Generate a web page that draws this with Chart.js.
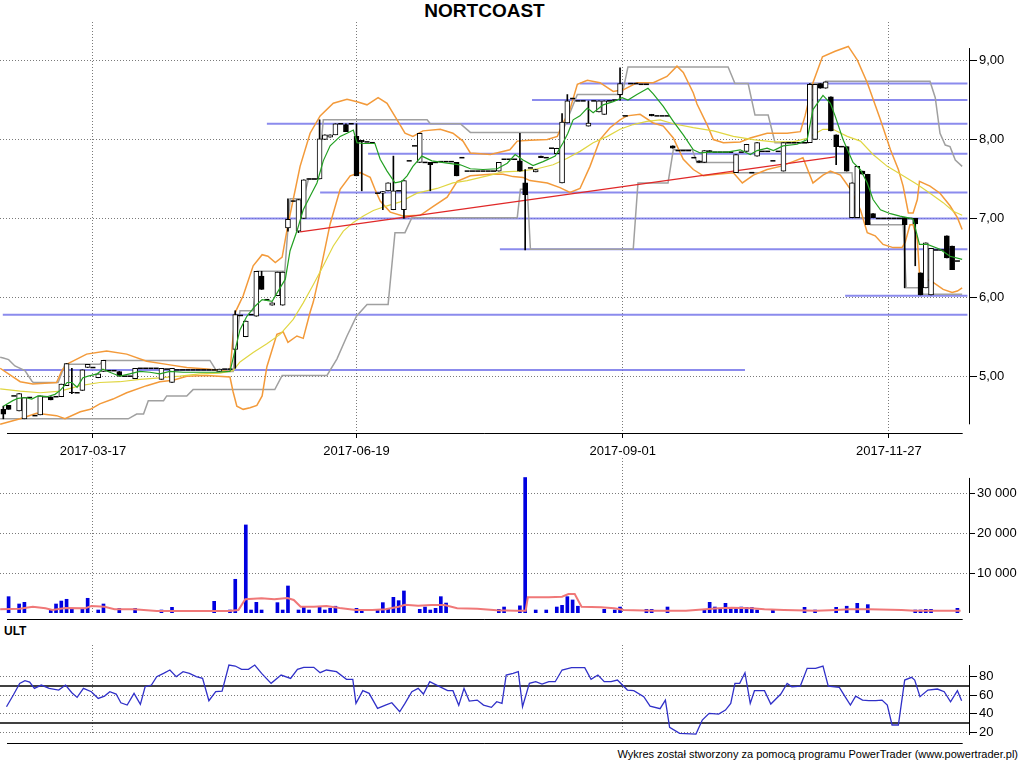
<!DOCTYPE html>
<html>
<head>
<meta charset="utf-8">
<script src="https://cdn.jsdelivr.net/npm/chart.js@4.4.1/dist/chart.umd.min.js"></script>
<style>
  body { margin: 0; width: 1024px; height: 768px; background: #fff; position: relative; overflow: hidden; font-family: "Liberation Sans", Arial, sans-serif; }
  .panel { position: absolute; left: 0; width: 1024px; }
  #title { position: absolute; left: 0; top: 0; width: 969px; text-align: center; font-weight: bold; font-size: 19px; }
  #ultLabel { position: absolute; left: 4px; top: 624px; font-weight: bold; font-size: 12px; }
  #footer { position: absolute; right: 6px; top: 748px; font-size: 11px; }
</style>
</head>
<body>
<div id="title">NORTCOAST</div>
<div class="panel" style="top:22px;height:438px"><canvas id="priceChart"></canvas></div>
<div class="panel" style="top:458px;height:164px"><canvas id="volumeChart"></canvas></div>
<div id="ultLabel">ULT</div>
<div class="panel" style="top:645px;height:101px"><canvas id="ultChart"></canvas></div>
<div id="footer">Wykres został stworzony za pomocą programu PowerTrader (www.powertrader.pl)</div>
<script>
// bar index axis: 0 .. 181 sessions
const X_MIN = -0.63, X_MAX = 183.2;
const dateLabels = ['2017-03-17', '2017-06-19', '2017-09-01', '2017-11-27'];
const dateIdx = [17, 67, 117.5, 168];
const lowerGridIdx = [17, 37, 57, 77, 97, 117.5, 137.5, 158, 178];
const priceTicks = [5, 6, 7, 8, 9];
const volumeTicks = [10000, 20000, 30000];
const ultTicks = [20, 40, 60, 80];
const ultBands = [70, 30];

const priceOpen = [
  4.58, 4.63, 4.75, 4.56, 4.46, 4.73, 4.50, 4.51, 4.74, 4.74,
  4.74, 4.74, 4.88, 4.80, 4.79, 4.82, 5.11, 5.11, 4.98, 5.06,
  5.07, 5.07, 5.06, 5.00, 5.00, 4.97, 5.10, 5.10, 5.10, 5.10,
  4.96, 5.09, 4.92, 5.08, 5.08, 5.08, 5.08, 5.08, 5.08, 5.08,
  5.08, 5.06, 5.09, 5.09, 5.34, 5.77, 5.50, 5.78, 5.76, 6.27,
  5.97, 5.90, 6.02, 5.90, 6.88, 7.22, 6.84, 7.00, 7.50, 7.50,
  7.50, 8.00, 8.03, 8.06, 8.20, 8.19, 8.20, 8.04, 7.99, 7.97,
  7.96, 7.32, 7.32, 7.35, 7.11, 7.35, 7.11, 7.73, 7.92, 7.71,
  7.71, 7.71, 7.71, 7.72, 7.72, 7.72, 7.71, 7.77, 7.60, 7.60,
  7.60, 7.60, 7.60, 7.60, 7.60, 7.75, 7.75, 7.75, 7.73, 7.45,
  7.64, 7.59, 7.79, 7.77, 7.89, 7.82, 7.45, 8.21, 8.52, 8.49,
  8.49, 8.17, 8.49, 8.35, 8.32, 8.49, 8.50, 8.57, 8.30, 8.71,
  8.71, 8.70, 8.70, 8.32, 8.30, 8.30, 8.30, 7.92, 7.86, 7.86,
  7.86, 7.77, 7.73, 7.71, 7.86, 7.84, 7.84, 7.84, 7.84, 7.58,
  7.84, 7.85, 7.58, 7.79, 7.85, 7.85, 7.73, 7.85, 7.60, 7.96,
  7.96, 7.96, 7.96, 7.96, 8.00, 8.71, 8.65, 8.54, 8.06, 7.91,
  7.91, 7.01, 7.01, 7.60, 7.56, 7.06, 7.00, 7.00, 7.00, 7.00,
  7.00, 7.01, 7.00, 7.00, 6.31, 6.12, 6.03, 6.60, 6.60, 6.78,
  6.65, 6.46
];
const priceHigh = [
  4.62, 4.63, 4.75, 4.78, 4.73, 4.73, 4.50, 4.75, 4.74, 4.74,
  4.74, 4.90, 5.16, 5.10, 4.79, 5.08, 5.15, 5.11, 5.03, 5.20,
  5.07, 5.07, 5.06, 5.00, 5.00, 5.10, 5.10, 5.10, 5.10, 5.10,
  5.10, 5.09, 5.10, 5.08, 5.08, 5.08, 5.08, 5.08, 5.08, 5.08,
  5.08, 5.09, 5.09, 5.09, 5.83, 5.77, 5.70, 5.78, 6.33, 6.33,
  5.97, 5.93, 6.32, 6.32, 7.25, 7.22, 7.24, 7.49, 7.50, 7.50,
  8.25, 8.06, 8.06, 8.20, 8.20, 8.20, 8.20, 8.20, 7.99, 7.97,
  7.96, 7.32, 7.34, 7.45, 7.79, 7.35, 7.48, 7.73, 7.92, 8.08,
  7.71, 7.71, 7.71, 7.72, 7.72, 7.72, 7.71, 7.77, 7.60, 7.60,
  7.60, 7.60, 7.60, 7.60, 7.71, 7.75, 7.75, 7.75, 8.08, 7.62,
  7.64, 7.62, 7.79, 7.77, 7.89, 7.89, 8.33, 8.57, 8.52, 8.49,
  8.49, 8.49, 8.49, 8.49, 8.49, 8.49, 8.50, 8.91, 8.30, 8.71,
  8.71, 8.70, 8.70, 8.32, 8.30, 8.30, 8.30, 7.92, 7.86, 7.86,
  7.86, 7.77, 7.73, 7.86, 7.86, 7.84, 7.84, 7.84, 7.84, 7.81,
  7.84, 7.94, 7.58, 7.96, 7.85, 7.85, 7.73, 7.85, 7.96, 7.96,
  7.96, 7.96, 7.96, 8.71, 8.70, 8.71, 8.73, 8.54, 8.06, 7.91,
  7.91, 7.45, 7.66, 7.60, 7.56, 7.06, 7.00, 7.00, 7.00, 7.00,
  7.00, 7.01, 7.00, 7.00, 6.31, 6.69, 6.62, 6.60, 6.60, 6.78,
  6.65, 6.46
];
const priceLow = [
  4.46, 4.58, 4.75, 4.56, 4.46, 4.73, 4.50, 4.51, 4.74, 4.70,
  4.74, 4.74, 4.88, 4.78, 4.79, 4.82, 5.11, 5.11, 4.98, 5.06,
  5.07, 5.07, 5.00, 5.00, 5.00, 4.97, 5.10, 5.10, 5.10, 5.10,
  4.96, 5.09, 4.92, 5.08, 5.08, 5.08, 5.08, 5.08, 5.08, 5.08,
  5.08, 5.06, 5.09, 5.09, 5.10, 5.77, 5.50, 5.78, 5.76, 6.10,
  5.97, 5.90, 6.02, 5.90, 6.84, 7.22, 6.82, 7.00, 7.50, 7.50,
  7.50, 8.00, 8.03, 8.06, 8.20, 8.10, 8.20, 7.54, 7.35, 7.97,
  7.96, 7.32, 7.11, 7.35, 7.11, 7.35, 7.00, 7.73, 7.92, 7.71,
  7.71, 7.35, 7.71, 7.72, 7.72, 7.72, 7.54, 7.77, 7.60, 7.60,
  7.60, 7.60, 7.60, 7.60, 7.60, 7.75, 7.75, 7.75, 7.60, 6.60,
  7.64, 7.59, 7.77, 7.77, 7.89, 7.82, 7.45, 8.21, 8.52, 8.49,
  8.49, 8.17, 8.49, 8.35, 8.32, 8.49, 8.50, 8.50, 8.30, 8.71,
  8.71, 8.70, 8.70, 8.30, 8.30, 8.30, 8.30, 7.89, 7.86, 7.86,
  7.86, 7.77, 7.71, 7.71, 7.84, 7.84, 7.84, 7.84, 7.84, 7.58,
  7.84, 7.85, 7.58, 7.79, 7.85, 7.85, 7.73, 7.85, 7.60, 7.96,
  7.96, 7.96, 7.96, 7.96, 8.00, 8.65, 8.65, 8.11, 7.68, 7.91,
  7.60, 7.01, 7.01, 7.56, 6.92, 7.01, 7.00, 7.00, 7.00, 7.00,
  7.00, 6.12, 7.00, 6.40, 6.03, 6.12, 6.03, 6.60, 6.60, 6.50,
  6.35, 6.46
];
const priceClose = [
  4.52, 4.58, 4.75, 4.78, 4.73, 4.73, 4.50, 4.75, 4.74, 4.70,
  4.74, 4.90, 5.16, 4.79, 4.79, 5.08, 5.15, 5.11, 5.03, 5.20,
  5.07, 5.07, 5.00, 5.00, 5.00, 5.10, 5.10, 5.10, 5.10, 5.10,
  5.10, 5.09, 5.10, 5.08, 5.08, 5.08, 5.08, 5.08, 5.08, 5.08,
  5.08, 5.09, 5.09, 5.09, 5.78, 5.77, 5.70, 5.78, 6.33, 6.10,
  5.97, 5.93, 6.32, 6.32, 6.99, 7.22, 7.24, 7.49, 7.50, 7.50,
  8.01, 8.06, 8.06, 8.20, 8.20, 8.10, 8.20, 7.54, 7.97, 7.97,
  7.96, 7.32, 7.34, 7.45, 7.35, 7.35, 7.48, 7.73, 7.92, 8.08,
  7.71, 7.68, 7.71, 7.72, 7.72, 7.72, 7.54, 7.77, 7.60, 7.60,
  7.60, 7.60, 7.60, 7.60, 7.71, 7.75, 7.75, 7.75, 7.60, 7.30,
  7.64, 7.62, 7.77, 7.77, 7.89, 7.89, 8.22, 8.49, 8.52, 8.49,
  8.49, 8.21, 8.49, 8.49, 8.49, 8.49, 8.50, 8.71, 8.30, 8.71,
  8.71, 8.70, 8.70, 8.30, 8.30, 8.30, 8.30, 7.89, 7.86, 7.86,
  7.86, 7.77, 7.71, 7.86, 7.84, 7.84, 7.84, 7.84, 7.84, 7.81,
  7.84, 7.94, 7.58, 7.96, 7.85, 7.85, 7.73, 7.85, 7.96, 7.96,
  7.96, 7.96, 7.96, 8.70, 8.70, 8.65, 8.73, 8.11, 7.91, 7.91,
  7.60, 7.45, 7.66, 7.56, 6.92, 7.01, 7.00, 7.00, 7.00, 7.00,
  7.00, 6.92, 7.00, 6.93, 6.03, 6.69, 6.62, 6.60, 6.60, 6.50,
  6.35, 6.46
];

// [bar index, value]
const bbUpper = [[-0.6,5.10],[3.2,4.93],[5.6,4.90],[10.1,4.92],[11.1,5.07],[12.0,5.15],[15.8,5.28],[19.6,5.32],[23.4,5.28],[27.2,5.19],[31.0,5.15],[34.8,5.11],[38.6,5.09],[43.0,5.06],[44.0,5.81],[45.5,6.02],[47.4,6.40],[49.1,6.54],[50.2,6.52],[51.6,6.44],[52.9,6.51],[54.0,6.92],[56.3,7.66],[58.2,8.08],[60.1,8.30],[62.6,8.46],[65.2,8.51],[67.1,8.48],[69.0,8.44],[71.1,8.53],[72.8,8.46],[74.7,8.25],[76.2,8.08],[77.7,8.04],[79.6,8.11],[82.9,8.13],[85.3,8.08],[87.2,7.98],[88.6,7.83],[92.4,7.81],[96.1,7.87],[97.5,7.98],[99.9,7.99],[103.2,8.00],[105.1,8.04],[106.2,8.21],[107.5,8.38],[108.9,8.70],[110.8,8.75],[113.2,8.72],[115.7,8.61],[117.6,8.63],[120.2,8.72],[123.3,8.72],[125.9,8.80],[127.8,8.93],[129.0,8.85],[130.9,8.59],[131.6,8.45],[133.5,8.19],[134.7,8.00],[136.6,7.96],[139.8,7.97],[141.7,8.02],[144.9,8.08],[148.7,8.08],[151.2,8.10],[152.1,8.30],[153.6,8.72],[155.4,9.05],[157.8,9.12],[160.3,9.18],[162.0,9.01],[163.9,8.72],[166.4,8.25],[168.3,7.87],[169.8,7.62],[170.7,7.41],[171.7,7.07],[172.6,7.07],[173.4,7.24],[173.8,7.47],[175.8,7.41],[177.7,7.32],[179.6,7.16],[181.0,7.01],[181.9,6.86]];
const bbLower = [[-0.6,4.39],[3.2,4.46],[6.3,4.53],[10.1,4.50],[11.7,4.46],[14.6,4.55],[16.5,4.58],[18.3,4.65],[20.8,4.71],[23.4,4.79],[27.2,4.88],[29.7,4.93],[32.2,4.95],[34.8,5.00],[38.6,5.01],[43.0,4.99],[43.6,4.80],[44.3,4.62],[45.5,4.58],[46.8,4.60],[48.1,4.63],[49.1,4.75],[50.0,5.12],[51.9,5.53],[53.1,5.56],[54.0,5.43],[55.7,5.51],[56.9,5.48],[58.2,5.81],[58.8,5.94],[60.1,6.32],[62.0,6.93],[63.9,7.37],[65.8,7.54],[67.7,7.58],[69.6,7.52],[70.5,7.37],[71.5,7.22],[73.4,7.08],[75.8,7.03],[79.1,7.04],[81.5,7.15],[84.2,7.27],[86.1,7.47],[88.6,7.54],[92.4,7.56],[94.8,7.56],[96.7,7.53],[98.6,7.52],[99.9,7.48],[103.2,7.45],[105.6,7.39],[107.5,7.33],[109.4,7.38],[111.3,7.66],[113.2,8.00],[115.1,8.15],[117.0,8.25],[118.3,8.30],[120.8,8.32],[123.3,8.21],[125.2,8.17],[127.1,8.02],[129.0,7.75],[130.9,7.62],[132.8,7.54],[135.4,7.56],[138.5,7.58],[140.2,7.45],[142.3,7.55],[144.9,7.62],[147.4,7.66],[149.8,7.72],[151.7,7.77],[153.6,7.45],[155.5,7.55],[156.9,7.60],[158.8,7.55],[160.7,7.37],[162.6,7.11],[163.9,6.82],[165.4,6.78],[166.9,6.67],[168.8,6.63],[170.5,6.63],[171.1,6.70],[172.0,6.92],[172.6,6.92],[173.4,6.73],[173.8,6.31],[174.5,6.25],[176.4,6.19],[178.3,6.10],[180.0,6.06],[181.0,6.08],[181.9,6.12]];
const maShort = [[0,4.62],[1.8,4.69],[2.8,4.72],[4.1,4.73],[5.4,4.71],[6.6,4.75],[8.3,4.74],[9.8,4.77],[10.8,4.82],[12.1,4.92],[13.0,4.92],[14.0,4.86],[15.1,4.98],[16.1,5.00],[17.8,5.03],[18.9,5.09],[20.2,5.05],[22.1,5.00],[24.0,5.03],[25.9,5.06],[27.8,5.05],[29.7,5.03],[31.6,5.06],[34.1,5.05],[37.3,5.05],[40.6,5.05],[43.0,5.06],[44.0,5.34],[44.9,5.59],[46.2,5.76],[47.8,5.89],[49.1,5.97],[51.0,5.95],[52.5,6.12],[53.5,6.23],[54.4,6.59],[55.7,6.84],[56.9,7.11],[58.2,7.28],[59.5,7.45],[60.7,7.73],[62.0,7.92],[63.9,8.04],[65.2,8.08],[66.4,8.12],[67.1,7.96],[68.3,7.95],[70.5,7.95],[71.5,7.75],[72.8,7.60],[74.3,7.45],[75.6,7.47],[76.6,7.54],[77.7,7.66],[79.4,7.79],[81.3,7.73],[84.2,7.70],[86.7,7.68],[88.6,7.63],[91.0,7.62],[93.7,7.63],[95.6,7.70],[97.1,7.81],[98.6,7.74],[100.5,7.67],[102.4,7.72],[104.7,7.79],[106.2,7.96],[107.1,8.08],[108.1,8.25],[109.4,8.30],[110.8,8.40],[111.9,8.34],[113.8,8.44],[115.7,8.48],[117.4,8.53],[118.5,8.50],[120.2,8.57],[122.3,8.65],[123.3,8.58],[125.2,8.42],[127.1,8.23],[129.0,8.06],[130.9,7.87],[132.2,7.83],[134.1,7.84],[137.3,7.84],[139.8,7.87],[141.7,7.81],[143.0,7.86],[144.9,7.89],[146.1,7.86],[147.9,7.92],[150.6,7.94],[152.5,8.00],[153.6,8.38],[155.5,8.56],[156.9,8.46],[157.8,8.30],[159.3,8.00],[161.2,7.71],[162.6,7.62],[163.9,7.45],[165.0,7.24],[166.4,7.11],[168.3,7.06],[170.1,7.03],[171.5,7.01],[172.6,6.99],[173.8,6.67],[175.3,6.67],[177.7,6.61],[179.6,6.52],[181.9,6.48]];
const maLong = [[-0.6,4.84],[3.2,4.81],[7.0,4.79],[10.8,4.81],[14.6,4.88],[18.3,4.92],[22.1,4.93],[25.9,4.96],[29.7,4.98],[33.5,5.00],[37.3,5.03],[41.1,5.04],[43.6,5.07],[44.9,5.18],[47.4,5.30],[50.0,5.41],[52.5,5.53],[55.0,5.72],[56.9,5.93],[58.8,6.16],[60.7,6.40],[62.6,6.65],[64.5,6.84],[66.4,6.95],[68.3,7.03],[70.2,7.10],[72.8,7.16],[75.3,7.21],[78.5,7.32],[82.3,7.38],[85.3,7.45],[88.0,7.48],[91.8,7.54],[94.8,7.59],[98.0,7.60],[101.3,7.63],[104.3,7.68],[106.9,7.76],[109.4,7.85],[111.9,7.96],[114.6,8.04],[117.0,8.13],[119.5,8.19],[122.1,8.23],[124.6,8.25],[127.1,8.20],[130.9,8.15],[134.7,8.11],[138.5,8.04],[142.3,8.00],[146.1,7.97],[149.8,7.97],[152.7,8.02],[153.6,8.06],[155.5,8.13],[157.4,8.13],[160.1,8.04],[162.6,7.98],[165.0,7.81],[167.7,7.66],[170.7,7.54],[173.4,7.43],[175.8,7.32],[178.3,7.20],[180.2,7.09],[181.9,7.04]];
const channelHigh = [[-0.6,5.24],[0,5.23],[1,5.21],[2.2,5.13],[4.1,5.07],[5.4,4.94],[5.7,4.92],[10.4,4.92],[11.7,5.15],[18.3,5.15],[19,5.20],[39.2,5.20],[40.5,5.06],[43.6,5.06],[44.9,5.83],[47.4,5.83],[48.2,6.33],[53.4,6.33],[54.4,7.25],[56.9,7.25],[57.9,7.50],[59.7,7.50],[60.7,8.25],[80.4,8.25],[81,8.20],[86.7,8.20],[88.6,8.09],[106,8.09],[108.9,8.57],[117.4,8.57],[118.5,8.92],[137.5,8.92],[138.8,8.71],[141.3,8.71],[142.6,8.31],[145.1,8.31],[146.4,7.96],[152.7,7.96],[153.2,8.71],[155.6,8.71],[156,8.74],[175.8,8.74],[176.8,8.53],[177.7,8.08],[178.7,7.93],[179.6,7.91],[180.6,7.74],[181.9,7.66]];
const channelLow = [[-0.6,4.46],[23.7,4.46],[25.3,4.52],[26.6,4.52],[27.5,4.69],[30.4,4.69],[31,4.75],[34.8,4.75],[36,4.83],[51.5,4.83],[52.9,5.01],[61.4,5.01],[63.3,5.22],[65.2,5.51],[67,5.76],[69,5.91],[73,5.91],[74.3,6.82],[76.2,6.82],[77.5,7.01],[97.5,7.01],[98.1,7.37],[99.4,7.37],[100,6.61],[119.5,6.61],[120.4,7.45],[126.1,7.45],[127.1,7.87],[130.7,7.87],[131.6,7.71],[138.8,7.71],[139.4,7.58],[161,7.58],[161.6,7.01],[164,7.01],[164.5,6.92],[170.7,6.92],[171.3,6.12],[173.6,6.12],[174.5,6.04],[181.9,6.04]];
const trendLine = [[56.3, 6.83], [157.8, 7.78]];
const levelPrice = [5.08, 5.78, 6.02, 6.61, 7.00, 7.33, 7.82, 8.20, 8.50, 8.71];
const levelFrom  = [0, -0.1, 159.7, 94.2, 44.9, 60.1, 69.2, 50.0, 100.3, 109.4];
const levelTo    = [140.7, 182.9, 182.9, 182.9, 182.9, 182.9, 182.9, 182.9, 182.9, 182.9];

const volume = [[1,4100],[3,2260],[4,2680],[9,750],[10,2260],[11,3000],[12,3440],[13,920],[15,920],[16,3690],[18,750],[19,2260],[22,1170],[25,1170],[30,750],[32,1420],[40,2930],[43,750],[44,8460],[46,22100],[47,750],[48,2680],[49,750],[52,2600],[53,750],[54,6780],[56,750],[57,1510],[58,750],[60,1500],[61,750],[62,1200],[63,1700],[67,1170],[68,750],[71,750],[72,2600],[73,920],[74,3940],[75,3100],[76,5530],[79,920],[80,1500],[81,750],[82,1170],[83,4100],[84,2500],[94,920],[95,1500],[98,1800],[99,34000],[101,750],[103,750],[105,1500],[106,1930],[107,4100],[108,3270],[109,1700],[114,920],[116,750],[117,1500],[122,920],[123,920],[126,1500],[133,750],[134,2680],[135,1500],[136,1170],[137,2430],[138,1170],[139,1170],[140,1500],[141,1420],[142,1420],[143,750],[146,750],[152,1420],[154,750],[158,1420],[160,1700],[162,2430],[164,2100],[173,750],[174,750],[175,920],[176,920],[181,1170]];
const volumeAvg = [[-0.6,920],[3.1,1090],[5.6,1590],[8.0,1170],[9.3,750],[11.8,1260],[15.5,1170],[16.7,1760],[19.2,1590],[21.1,920],[24.8,920],[29.1,500],[36.6,500],[42.8,500],[44.6,750],[45.9,3430],[49.0,3690],[51.4,3430],[53.9,3770],[55.1,3270],[56.4,1590],[58.9,1590],[61.3,1760],[63.8,1260],[66.9,750],[70.0,750],[72.5,920],[75.0,1590],[76.2,2090],[78.7,1840],[81.2,2010],[83.7,2010],[86.1,1170],[89.9,1090],[93.6,670],[97.3,590],[99.1,590],[99.5,3940],[103.5,3940],[106.0,4100],[107.2,4770],[108.4,4770],[109.7,1590],[113.4,1420],[115.9,1170],[117.7,750],[123.3,590],[129.5,590],[133.2,920],[135.7,1170],[138.2,1340],[141.9,1170],[144.4,920],[148.1,750],[154.3,590],[158.0,750],[160.5,920],[164.2,920],[170.4,750],[172.9,590],[181.6,590]];

const ult = [[0.6,47.6],[1.9,60.2],[3.1,72.8],[4.1,75.7],[5.0,74.2],[5.9,67.4],[7.2,71],[8.7,67.4],[10.5,65.6],[11.8,71],[13,62.7],[14,57.7],[15.2,67.4],[16.7,63.8],[18,56.6],[19.2,59.1],[20.2,63.8],[21.4,61.3],[22.3,51.9],[23.5,49.4],[24.8,62],[26,50.2],[26.9,69.2],[28.1,71],[29.1,80],[30.4,83.6],[31.6,87.2],[32.8,80],[34.1,85.4],[35.3,83.6],[36.6,80],[37.8,78.2],[39,54.1],[40.3,63.8],[41.5,64.5],[42.8,92.6],[44,91.5],[45.2,87.9],[46.5,87.9],[47.7,92.6],[49,83.6],[50.8,72.8],[52.7,81.8],[54.5,78.2],[55.8,87.9],[57,90.1],[58.9,90.1],[60.1,84.3],[61.3,87.2],[63.2,85.4],[65.1,77.1],[66.3,77.1],[66.9,51.2],[68.2,64.9],[69.4,62],[71,45.8],[72.5,49.4],[73.7,51.9],[75.2,42.2],[76.2,51.2],[77.5,63.8],[78.7,67.4],[79.7,61.3],[80.9,74.6],[82.2,71],[84.3,64.9],[85.3,64.9],[86.4,49.1],[87.4,67.4],[88.4,53.7],[89.9,54.8],[91.1,49.4],[92.6,46.9],[93.6,53],[94.6,51.2],[95.4,81.8],[96.7,83.6],[97.7,85.4],[98.5,47.6],[99.8,72.8],[101,74.6],[102.2,72.1],[103.5,74.6],[104.7,74.6],[106,87.2],[107.8,89.7],[110.3,89.7],[111.5,77.1],[112.8,81.8],[114,74.6],[115.3,74.6],[116.5,76.4],[118.4,65.6],[119.6,64.9],[121.5,58.4],[122.7,48.3],[124.6,45.5],[125.6,54.8],[126.4,25.3],[128.3,18.8],[131.4,18.1],[132.6,33.2],[133.9,40.4],[135.7,39.7],[137,44],[138,51.2],[138.8,72.8],[139.7,72.8],[140.7,84.3],[141.7,51.2],[142.5,64.9],[144.4,64.9],[145.6,50.5],[147.5,61.3],[148.7,72.8],[149.6,69.2],[151.2,69.9],[152.5,89],[154.1,89],[155.5,91.5],[156.5,69.9],[158.6,68.5],[159.9,56.6],[160.7,49.4],[161.7,59.1],[163,54.8],[164.2,54.1],[165.5,54.1],[166.7,54.8],[167.7,49.4],[168.6,27.9],[169.8,27.9],[171,76.4],[172.3,79.3],[172.9,76.4],[173.9,58.4],[175.4,65.6],[177.2,66.7],[178.5,63.8],[179.7,53],[181,64.9],[181.8,54.1]];

Chart.defaults.font.family = '"Liberation Sans", Arial, sans-serif';
Chart.defaults.font.size = 13;
Chart.defaults.color = '#000';

// right axis line and bottom rule, drawn only over the span the original shows
const axisFrame = {
    id: 'axisFrame',
    afterDraw(chart, args, o) {
        const { ctx, chartArea: a, scales: { x, y } } = chart;
        ctx.save();
        ctx.strokeStyle = '#000';
        ctx.lineWidth = 1;
        ctx.beginPath();
        const ax = Math.round(a.right) + 0.5;
        ctx.moveTo(ax, y.getPixelForValue(o.yFrom));
        ctx.lineTo(ax, y.getPixelForValue(o.yTo));
        const by = Math.round(a.bottom + o.drop) + 0.5;
        ctx.moveTo(x.getPixelForValue(o.xFrom), by);
        ctx.lineTo(x.getPixelForValue(o.xTo), by);
        ctx.stroke();
        ctx.restore();
    }
};
Chart.register(axisFrame);

const pts = pairs => pairs.map(([x, y]) => ({ x, y }));
const line = (pairs, color, width, order) => ({
    type: 'line', data: pts(pairs), borderColor: color, borderWidth: width,
    pointRadius: 0, tension: 0, fill: false, order
});

function xAxis(tickIdx, withLabels, height) {
    return {
        type: 'linear', min: X_MIN, max: X_MAX, offset: false,
        afterBuildTicks: ax => { ax.ticks = tickIdx.map(v => ({ value: v })); },
        afterFit: ax => { ax.height = height; ax.paddingLeft = 0; ax.paddingRight = 0; },
        grid: { color: '#7a7a7a', offset: false, drawTicks: withLabels, tickLength: 5, tickColor: '#000', tickBorderDash: [] },
        border: { display: false, dash: [1, 2] },
        ticks: { display: withLabels, autoSkip: false, maxRotation: 0, padding: 6,
                 callback: v => dateLabels[dateIdx.indexOf(v)] }
    };
}
function yAxis(min, max, tickVals, tickLen, fmt) {
    return {
        position: 'right', min, max,
        afterBuildTicks: ax => { ax.ticks = tickVals.map(v => ({ value: v })); },
        afterFit: ax => { ax.width = 1024 - 969; ax.paddingTop = 0; ax.paddingBottom = 0; },
        grid: { color: '#7a7a7a', tickLength: tickLen, tickColor: '#000', tickBorderDash: [] },
        border: { display: false, dash: [1, 2] },
        ticks: { padding: 2, callback: fmt }
    };
}
const baseOptions = {
    responsive: true, maintainAspectRatio: false, animation: false,
    layout: { padding: 0, autoPadding: false },
    plugins: { legend: { display: false }, tooltip: { enabled: false } }
};

// candles
const bars = priceClose.map((_, i) => i);
const wicks = bars.filter(i => priceHigh[i] > priceLow[i])
    .map(i => ({ x: i, y: [priceLow[i], priceHigh[i]] }));
const bodies = bars.filter(i => priceOpen[i] !== priceClose[i])
    .map(i => ({ x: i, y: [Math.min(priceOpen[i], priceClose[i]), Math.max(priceOpen[i], priceClose[i])], up: priceClose[i] > priceOpen[i] }));
const flats = bars.filter(i => priceHigh[i] === priceLow[i]).map(i => ({ x: i, y: priceClose[i] }));

const levelSets = levelPrice.map((v, k) => line([[levelFrom[k], v], [levelTo[k], v]], 'rgba(110,110,232,0.8)', 2, 10));

new Chart(document.getElementById('priceChart'), {
    type: 'bar',
    data: {
        datasets: [
            ...levelSets,
            line(channelHigh, '#a0a0a0', 1.5, 9),
            line(channelLow, '#a0a0a0', 1.5, 9),
            line(bbUpper, '#f39a3a', 1.5, 8),
            line(bbLower, '#f39a3a', 1.5, 8),
            line(maLong, '#e0d642', 1.2, 7),
            line(trendLine, '#e02828', 1.3, 6),
            { type: 'bar', data: wicks, grouped: false, barPercentage: 1, categoryPercentage: 1, maxBarThickness: 1,
              backgroundColor: '#000', borderWidth: 0, order: 5 },
            { type: 'bar', data: bodies, grouped: false, barPercentage: 1, categoryPercentage: 1, maxBarThickness: 5,
              backgroundColor: c => (c.raw && c.raw.up) ? '#fff' : '#000', borderColor: '#000', borderWidth: 1,
              borderSkipped: false, order: 4 },
            { type: 'scatter', data: flats, pointStyle: 'line', pointRadius: 2.5, pointBorderWidth: 1.5,
              pointBorderColor: '#000', borderColor: '#000', order: 4 },
            line(maShort, '#22a022', 1.2, 3)
        ]
    },
    options: {
        ...baseOptions,
        scales: {
            x: xAxis(dateIdx, true, 27),
            y: yAxis(4.28, 9.49, priceTicks, 8, v => v.toFixed(2).replace('.', ','))
        },
        plugins: { ...baseOptions.plugins, axisFrame: { yFrom: 4.39, yTo: 9.16, xFrom: 0.7, xTo: 182, drop: 0 } }
    }
});

new Chart(document.getElementById('volumeChart'), {
    type: 'bar',
    data: {
        datasets: [
            line(volumeAvg, '#f07878', 2, 0),
            { type: 'bar', data: pts(volume), grouped: false, barPercentage: 1, categoryPercentage: 1, maxBarThickness: 3,
              backgroundColor: '#0000e0', borderWidth: 0, order: 1 }
        ]
    },
    options: {
        ...baseOptions,
        scales: {
            x: xAxis(lowerGridIdx, false, 9),
            y: yAxis(0, 38900, volumeTicks, 6, v => String(v).replace(/\B(?=(\d{3})+(?!\d))/g, ' '))
        },
        plugins: { ...baseOptions.plugins, axisFrame: { yFrom: 0, yTo: 33900, xFrom: 0.7, xTo: 182, drop: 6 } }
    }
});

new Chart(document.getElementById('ultChart'), {
    type: 'line',
    data: {
        datasets: [
            ...ultBands.map(v => line([[X_MIN, v], [X_MAX, v]], '#000', 1.5, 1)),
            line(ult, '#3030c8', 1.3, 0)
        ]
    },
    options: {
        ...baseOptions,
        scales: {
            x: xAxis(lowerGridIdx, false, 11),
            y: yAxis(17.1, 114.2, ultTicks, 8, v => String(v))
        },
        plugins: { ...baseOptions.plugins, axisFrame: { yFrom: 17.1, yTo: 92.6, xFrom: 0.7, xTo: 182, drop: 8 } }
    }
});
</script>
</body>
</html>
